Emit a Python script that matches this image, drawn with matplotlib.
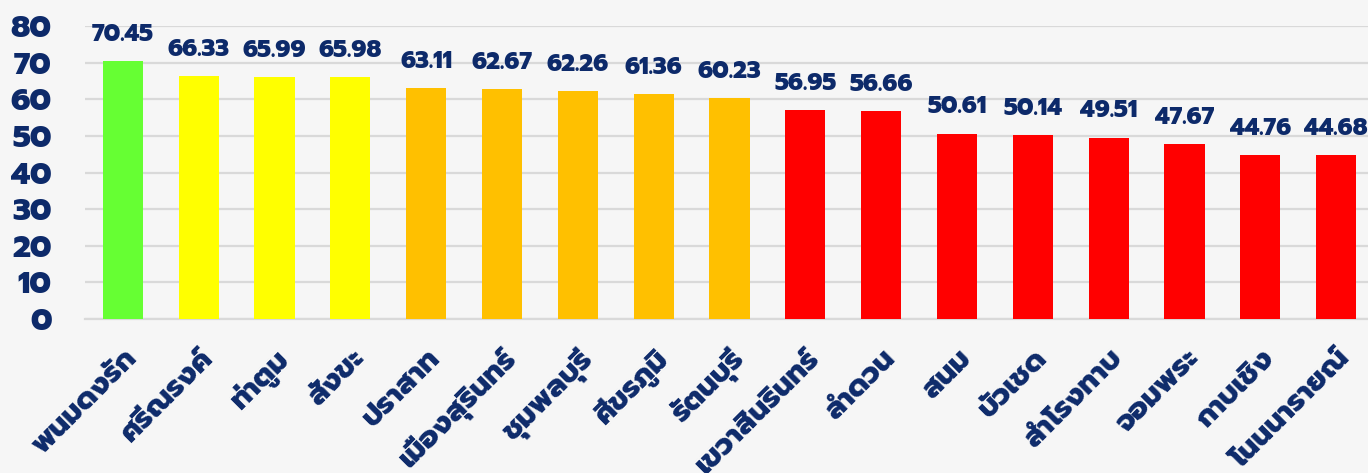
import matplotlib
matplotlib.use('Agg')
import matplotlib.pyplot as plt
import numpy as np

# district scores
districts = ['พนมดงรัก', 'ศรีณรงค์', 'ท่าตูม', 'สังขะ', 'ปราสาท', 'เมืองสุรินทร์',
             'ชุมพลบุรี', 'ศีขรภูมิ', 'รัตนบุรี', 'เขวาสินรินทร์', 'ลำดวน', 'สนม',
             'บัวเชด', 'สำโรงทาบ', 'จอมพระ', 'กาบเชิง', 'โนนนารายณ์']
scores = [70.45, 66.33, 65.99, 65.98, 63.11, 62.67, 62.26, 61.36, 60.23,
          56.95, 56.66, 50.61, 50.14, 49.51, 47.67, 44.76, 44.68]
y_ticks = [0, 10, 20, 30, 40, 50, 60, 70, 80]

navy = '#0D2A6A'
plt.rcParams['font.family'] = ['Prompt', 'DejaVu Sans']
W = 'heavy'


def bar_color(v):
    if v >= 70:
        return '#66FF33'
    if v >= 65:
        return '#FFFF00'
    if v >= 60:
        return '#FFC000'
    return '#FF0000'


fig = plt.figure(figsize=(13.68, 4.73), dpi=100)
fig.patch.set_facecolor('#F6F6F6')
ax = fig.add_axes([85 / 1368, 154 / 473, 1289 / 1368, 293 / 473])
ax.set_facecolor('none')

x = np.arange(len(districts))
ax.bar(x, scores, width=0.53, color=[bar_color(v) for v in scores], zorder=3)

for xi, v in zip(x, scores):
    ax.annotate(f'{v:.2f}', (xi, v), xytext=(0, 11), textcoords='offset points',
                ha='center', va='bottom', fontsize=17, fontweight=W, color=navy)

ax.set_xlim(-0.5, len(districts) - 0.5)
ax.set_ylim(0, 80)
ax.set_yticks(y_ticks)
ax.grid(axis='y', color='#D9D9D9', linewidth=1.6, zorder=0)
ax.set_axisbelow(True)
for s in ['top', 'right', 'left']:
    ax.spines[s].set_visible(False)
ax.spines['bottom'].set_color('#D9D9D9')
ax.spines['bottom'].set_linewidth(1.6)
ax.tick_params(axis='both', length=0)
ax.tick_params(axis='y', pad=24, labelsize=22, labelcolor=navy)
for t in ax.get_yticklabels():
    t.set_fontweight(W)

ax.set_xticks(x)
ax.set_xticklabels(districts, rotation=45, ha='right', va='top',
                   rotation_mode='anchor', fontsize=21, fontweight=W, color=navy)
ax.tick_params(axis='x', pad=18)

fig.savefig('out.png', dpi=100, facecolor=fig.get_facecolor())
